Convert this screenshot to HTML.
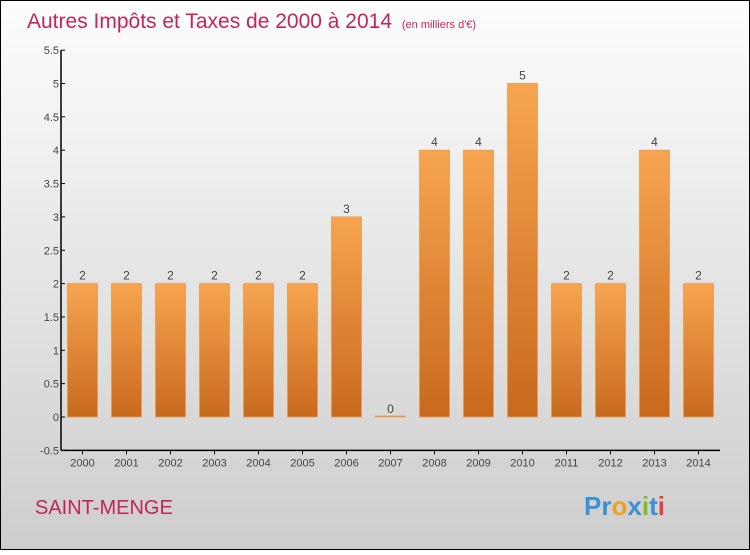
<!DOCTYPE html>
<html><head><meta charset="utf-8"><style>
body{margin:0;width:750px;height:550px;overflow:hidden;font-family:"Liberation Sans",sans-serif}
</style></head><body>
<svg width="750" height="550" xmlns="http://www.w3.org/2000/svg">
<defs>
<linearGradient id="bg" x1="0" y1="0" x2="0" y2="1"><stop offset="0" stop-color="#fdfdfd"/><stop offset="1" stop-color="#cdcdcd"/></linearGradient>
<linearGradient id="bar" x1="0" y1="0" x2="0" y2="1"><stop offset="0" stop-color="#f7a550"/><stop offset="1" stop-color="#c8691c"/></linearGradient>
</defs>
<rect x="0.5" y="0.5" width="749" height="549" fill="url(#bg)" stroke="#000"/>
<text x="27" y="28" font-size="21" fill="#c2255c">Autres Impôts et Taxes de 2000 à 2014 <tspan font-size="11" dx="4">(en milliers d'€)</tspan></text>
<g id="yaxis"></g>
<g id="bars"></g>
<g id="xaxis"></g>
<text x="35" y="514" font-size="20" fill="#c2255c">SAINT-MENGE</text>
<text x="584" y="515" font-size="26" font-weight="bold"><tspan fill="#3b8fd4">Pr</tspan><tspan fill="#f0a020">o</tspan><tspan fill="#3b8fd4">x</tspan><tspan fill="#7cbf2a">i</tspan><tspan fill="#3b8fd4">t</tspan><tspan fill="#e84040">i</tspan></text>
</svg>
<script>
const years=["2000","2001","2002","2003","2004","2005","2006","2007","2008","2009","2010","2011","2012","2013","2014"];
const values=[2,2,2,2,2,2,3,0,4,4,5,2,2,4,2];
const yTicks=[-0.5,0,0.5,1,1.5,2,2.5,3,3.5,4,4.5,5,5.5];
const NS="http://www.w3.org/2000/svg";
const y0=417,unit=66.7,axX=61,x0=82.5,step=44,bw=30;
const Y=v=>y0-v*unit, X=i=>x0+i*step;
function mk(t,a,p,txt){const e=document.createElementNS(NS,t);for(const k in a)e.setAttribute(k,a[k]);if(txt!==undefined)e.textContent=txt;p.appendChild(e);return e;}
const ya=document.getElementById('yaxis'),ba=document.getElementById('bars'),xa=document.getElementById('xaxis');
mk('line',{x1:axX,y1:Y(5.5),x2:axX,y2:Y(-0.5),stroke:'#000','stroke-width':1.5},ya);
yTicks.forEach(v=>{
 mk('line',{x1:axX,y1:Y(v),x2:axX+4,y2:Y(v),stroke:'#000'},ya);
 const t=mk('text',{x:axX-2,y:Y(v)+4,'font-size':11,fill:'#444','text-anchor':'end'},ya,String(v));
 
 
});
mk('line',{x1:axX,y1:Y(-0.5),x2:720,y2:Y(-0.5),stroke:'#000','stroke-width':1.5},xa);
years.forEach((yr,i)=>{
 const cx=X(i);
 mk('line',{x1:cx,y1:Y(-0.5),x2:cx,y2:Y(-0.5)+4,stroke:'#000'},xa);
 const t=mk('text',{x:cx,y:Y(-0.5)+16,'font-size':11,fill:'#444','text-anchor':'middle'},xa,yr);
 
 
 const v=values[i];
 const h=Math.max(Y(0)-Y(v),1);
 const r=mk('rect',{x:cx-bw/2,y:Y(0)-h,width:bw,height:h,fill:'url(#bar)',stroke:'#e89a50','stroke-width':0.8},ba);
 
 
 const l=mk('text',{x:cx,y:Y(v)-4,'font-size':12,fill:'#444','text-anchor':'middle'},ba,String(v));
 
 
});
</script>
</body></html>
